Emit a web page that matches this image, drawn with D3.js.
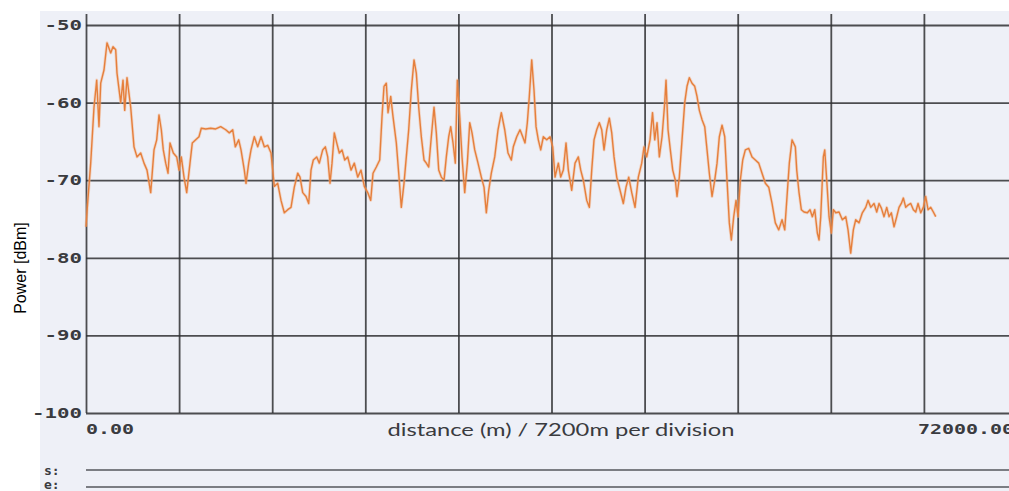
<!DOCTYPE html>
<html>
<head>
<meta charset="utf-8">
<script src="https://cdn.jsdelivr.net/npm/d3@7"></script>
<style>
  html, body { margin: 0; padding: 0; background: #ffffff; }
  svg { display: block; }
</style>
</head>
<body>
<svg id="chart" width="1009" height="491"></svg>
<script>
// Power trace along the link: distance from origin (m) and received power (dBm)
const distanceM = [
  0, 80, 363, 619, 828, 1005, 1137, 1392, 1624, 1910, 2088, 2297, 2398, 2684, 2862, 2993,
  3171, 3457, 3712, 3944, 4230, 4486, 4718, 5004, 5259, 5468, 5646, 5824, 5978, 6164, 6342,
  6497, 6752, 7015, 7193, 7371, 7579, 7788, 8043, 8221, 8484, 8739, 8917, 9258, 9644, 10031,
  10418, 10805, 11083, 11346, 11547, 11810, 11988, 12243, 12374, 12583, 12761, 13016, 13279,
  13535, 13790, 14053, 14308, 14563, 14826, 15081, 15336, 15599, 15855, 16110, 16373, 16551,
  16760, 17015, 17224, 17402, 17579, 17842, 18044, 18306, 18508, 18693, 18871, 19026, 19204,
  19389, 19590, 19799, 20008, 20240, 20495, 20751, 21013, 21269, 21524, 21787, 22019, 22197,
  22452, 22714, 22893, 23047, 23225, 23357, 23566, 23743, 23999, 24184, 24385, 24594, 24772,
  24957, 25159, 25368, 25545, 25731, 25932, 26141, 26319, 26504, 26706, 26914, 27092, 27278,
  27479, 27688, 27866, 28051, 28206, 28384, 28562, 28716, 28902, 29080, 29288, 29490, 29676,
  29853, 30062, 30317, 30573, 30781, 30959, 31145, 31346, 31609, 31864, 32119, 32382, 32637,
  32893, 33047, 33310, 33566, 33774, 33952, 34130, 34285, 34470, 34648, 34804, 34981, 35167,
  35368, 35631, 35886, 36095, 36273, 36528, 36713, 36915, 37123, 37301, 37564, 37820, 38075,
  38260, 38462, 38724, 38925, 39111, 39289, 39498, 39699, 39884, 40062, 40271, 40472, 40658,
  40836, 41044, 41300, 41555, 41763, 41973, 42205, 42460, 42715, 42978, 43156, 43364, 43620,
  43813, 43984, 44161, 44340, 44548, 44757, 44857, 45012, 45190, 45375, 45577, 45707, 45886,
  46094, 46303, 46480, 46659, 46867, 47076, 47254, 47433, 47641, 47850, 48028, 48206, 48415,
  48624, 48802, 48980, 49189, 49397, 49574, 49753, 49907, 50093, 50271, 50426, 50604, 50789,
  50990, 51253, 51508, 51764, 52026, 52282, 52537, 52800, 53055, 53311, 53573, 53829, 54037,
  54215, 54393, 54602, 54857, 54966, 55143, 55321, 55529, 55786, 55994, 56172, 56358, 56559,
  56690, 56822, 57023, 57132, 57285, 57464, 57642, 57797, 57982, 58237, 58492, 58755, 58933,
  59140, 59343, 59528, 59784, 60039, 60302, 60480, 60689, 60944, 61153, 61331, 61509, 61717,
  61926, 62104, 62283, 62491, 62700, 62877, 63055, 63210, 63396, 63573, 63782, 63984, 64169,
  64347, 64556, 64757, 64942, 65120, 65329, 65530, 65716
];
const powerDbm = [
  -76.0, -74.0, -67.8, -60.6, -57.1, -63.1, -57.5, -55.8, -52.3, -53.6, -52.8, -53.2, -56.2, -60.0, -57.1, -61.0,
  -56.8, -60.6, -65.7, -67.0, -66.5, -67.8, -68.7, -71.6, -66.1, -64.8, -61.6, -63.5, -66.1, -67.8, -69.1,
  -65.2, -66.5, -67.0, -68.7, -67.0, -69.6, -71.6, -67.8, -65.2, -64.8, -64.4, -63.3, -63.4, -63.3, -63.4,
  -63.1, -63.5, -63.9, -63.5, -65.7, -64.8, -66.1, -68.7, -70.4, -67.8, -66.1, -64.4, -65.7,
  -64.4, -65.7, -65.5, -66.5, -70.8, -70.4, -72.6, -74.2, -73.8, -73.5, -70.9, -69.1, -69.6,
  -71.6, -72.1, -73.0, -68.7, -67.4, -67.0, -67.8, -66.1, -65.7, -67.0, -70.4, -67.8, -63.9,
  -65.2, -66.5, -66.1, -67.4, -67.0, -68.7, -67.8, -69.6, -68.7, -70.8, -71.6, -72.6, -69.1,
  -68.3, -67.4, -61.8, -57.9, -57.5, -61.3, -59.2, -61.8, -65.2, -69.1, -73.5, -70.4, -67.0,
  -63.5, -58.4, -54.5, -56.2, -60.6, -64.4, -67.4, -67.8, -68.3, -64.4, -60.6, -63.9, -68.7,
  -69.6, -70.0, -67.0, -64.4, -63.1, -65.2, -67.8, -57.1, -61.8, -67.0, -71.6, -67.8, -62.6,
  -63.9, -66.1, -67.8, -69.6, -70.9, -74.2, -71.3, -69.1, -67.0, -63.5, -61.3, -63.5, -66.5,
  -67.4, -65.7, -64.4, -63.5, -64.4, -65.2, -62.6, -59.2, -54.5, -58.4, -63.1, -64.8, -66.1,
  -64.4, -64.8, -64.4, -65.7, -69.6, -67.8, -69.6, -68.7, -65.2, -68.7, -71.3, -67.8, -67.0,
  -68.7, -70.0, -72.6, -73.5, -68.7, -64.8, -63.5, -62.6, -63.5, -66.1, -63.5, -62.0, -63.9,
  -67.0, -69.6, -71.3, -73.0, -70.9, -69.6, -71.6, -73.5, -69.6, -67.8, -65.7, -67.0, -64.8,
  -61.3, -64.8, -62.6, -67.0, -64.4, -60.0, -57.1, -63.5, -66.1, -68.7, -70.0, -72.1, -69.6,
  -64.8, -60.0, -57.9, -56.8, -57.5, -57.9, -59.2, -61.0, -62.2, -63.1, -66.1, -69.1, -72.1,
  -70.0, -67.8, -64.4, -62.9, -64.4, -70.0, -75.5, -77.7, -74.7, -72.6, -74.7, -70.0, -67.4,
  -66.1, -65.9, -67.0, -67.4, -67.8, -69.1, -70.4, -70.9, -73.0, -75.5, -76.4, -75.1, -76.4,
  -72.1, -67.8, -64.8, -65.7, -68.7, -71.6, -73.8, -74.1, -74.2, -73.8, -74.7, -73.8, -76.8,
  -77.7, -74.7, -67.0, -66.1, -70.0, -74.7, -76.8, -73.8, -74.2, -74.1, -75.1, -74.7, -76.4,
  -79.4, -76.4, -75.1, -75.5, -74.2, -73.5, -72.6, -73.5, -73.0, -74.1, -73.0, -73.6, -74.7,
  -73.5, -74.7, -74.2, -76.0, -74.7, -73.5, -73.0, -72.3, -73.5, -73.2, -73.0, -73.8, -74.1,
  -73.0, -74.2, -73.5, -72.1, -73.8, -73.5, -74.1, -74.7
];

const powerTicks = [-50, -60, -70, -80, -90, -100];
const powerDomain = [-100, -50];
const distanceDomain = [0, 72000];
const distanceDivision = 7200;
const distanceEndLabels = ["0.00", "72000.00"];
const xTitle = "distance (m) / 7200m per division";
const yTitle = "Power [dBm]";
const markerLabels = ["s:", "e:"];

const svg = d3.select("#chart");

// plot frame
const plotLeft = 86, plotRight = 1017, plotTop = 25, plotBottom = 413, gridTop = 14;
const x = d3.scaleLinear().domain(distanceDomain).range([plotLeft, plotRight]);
const y = d3.scaleLinear().domain(powerDomain).range([plotBottom, plotTop]);

// light panel behind the trace display
svg.append("rect")
  .attr("x", 40).attr("y", 11)
  .attr("width", 969).attr("height", 480)
  .attr("fill", "#eef0f7");

const gridColor = "#2f3033";
const tickFont = "'DejaVu Sans Mono', monospace";

// horizontal grid with power labels
const yAxis = d3.axisLeft(y)
  .tickValues(powerTicks)
  .tickSize(-(plotRight - plotLeft))
  .tickPadding(4)
  .tickFormat(d => String(d));

const gy = svg.append("g")
  .attr("transform", `translate(${plotLeft},0)`)
  .call(yAxis);
gy.select(".domain").remove();
gy.selectAll(".tick line")
  .attr("stroke", gridColor)
  .attr("stroke-width", 1.8)
  .attr("stroke-opacity", 0.85);
gy.selectAll(".tick text")
  .attr("font-family", tickFont)
  .attr("font-weight", "bold")
  .attr("font-size", 14)
  .attr("fill", "#3a3b3f")
  .attr("textLength", d => String(d).length * 12.5)
  .attr("lengthAdjust", "spacingAndGlyphs");

// vertical division lines
const divisions = d3.range(distanceDomain[0], distanceDomain[1] + 1, distanceDivision);
const xAxis = d3.axisBottom(x)
  .tickValues(divisions)
  .tickSize(-(plotBottom - gridTop))
  .tickFormat("");
const gx = svg.append("g")
  .attr("transform", `translate(0,${plotBottom})`)
  .call(xAxis);
gx.select(".domain").remove();
gx.selectAll(".tick line")
  .attr("stroke", gridColor)
  .attr("stroke-width", 1.8)
  .attr("stroke-opacity", 0.85);

// distance end labels
svg.append("g").selectAll("text")
  .data(distanceEndLabels)
  .join("text")
  .attr("x", (d, i) => i === 0 ? x(distanceDomain[0]) : x(distanceDomain[1]) - 3)
  .attr("y", 434)
  .attr("text-anchor", (d, i) => i === 0 ? "start" : "end")
  .attr("font-family", tickFont)
  .attr("font-weight", "bold")
  .attr("font-size", 14)
  .attr("fill", "#3a3b3f")
  .attr("textLength", d => d.length * 12)
  .attr("lengthAdjust", "spacingAndGlyphs")
  .text(d => d);

// axis titles
svg.append("text")
  .attr("x", 561).attr("y", 436)
  .attr("text-anchor", "middle")
  .attr("font-family", "Lato, 'DejaVu Sans', sans-serif")
  .attr("font-size", 18)
  .attr("fill", "#3a3b3f")
  .attr("textLength", 347)
  .attr("lengthAdjust", "spacingAndGlyphs")
  .text(xTitle);

svg.append("text")
  .attr("transform", "translate(26,268) rotate(-90)")
  .attr("text-anchor", "middle")
  .attr("font-family", "'Liberation Sans', Arial, sans-serif")
  .attr("font-size", 16)
  .attr("fill", "#000")
  .text(yTitle);

// start / end marker rows under the display
const markerY = [470, 487];
const markers = svg.append("g");
markers.selectAll("line")
  .data(markerLabels)
  .join("line")
  .attr("x1", plotLeft).attr("x2", 1009)
  .attr("y1", (d, i) => markerY[i]).attr("y2", (d, i) => markerY[i])
  .attr("stroke", "#55575c")
  .attr("stroke-width", 1.6);
markers.selectAll("text")
  .data(markerLabels)
  .join("text")
  .attr("x", 44)
  .attr("y", (d, i) => Math.min(markerY[i] + 5, 489))
  .attr("font-family", tickFont)
  .attr("font-weight", "bold")
  .attr("font-size", 13)
  .attr("fill", "#3a3b3f")
  .text(d => d);

// power trace
const points = distanceM.map((d, i) => [d, powerDbm[i]]);
const line = d3.line().x(d => x(d[0])).y(d => y(d[1]));

svg.append("path")
  .datum(points)
  .attr("d", line)
  .attr("fill", "none")
  .attr("stroke", "#f3b48a")
  .attr("stroke-width", 3)
  .attr("stroke-opacity", 0.45)
  .attr("stroke-linejoin", "round");

svg.append("path")
  .datum(points)
  .attr("d", line)
  .attr("fill", "none")
  .attr("stroke", "#e57f3c")
  .attr("stroke-width", 1.4)
  .attr("stroke-linejoin", "round");
</script>
</body>
</html>
